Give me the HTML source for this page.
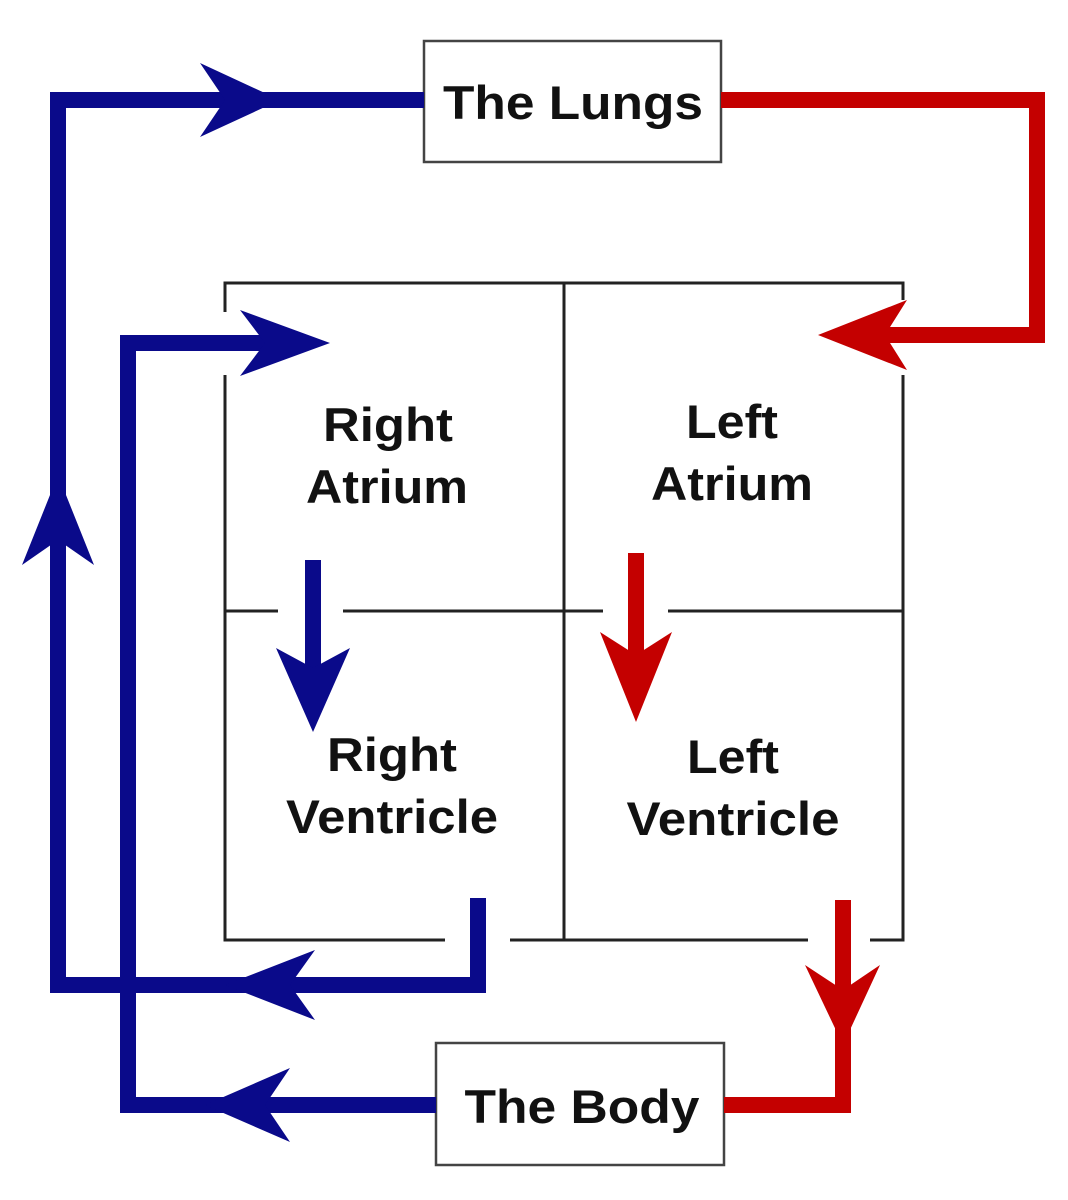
<!DOCTYPE html>
<html><head><meta charset="utf-8"><style>
html,body{margin:0;padding:0;background:#fff;}
svg{display:block;}
text{font-family:"Liberation Sans",Arial,sans-serif;font-weight:bold;fill:#111;text-anchor:middle;}
</style></head><body>
<svg width="1068" height="1200" viewBox="0 0 1068 1200" xmlns="http://www.w3.org/2000/svg">
<!-- heart box -->
<g stroke="#222" stroke-width="3" fill="none">
<path d="M225 312 V283 H903 V300"/>
<path d="M225 375 V940 H445"/>
<path d="M510 940 H808"/>
<path d="M870 940 H903 V375"/>
<path d="M564 283 V940"/>
<path d="M225 611 H278"/>
<path d="M343 611 H603"/>
<path d="M668 611 H903"/>
</g>
<!-- boxes -->
<rect x="424" y="41" width="297" height="121" fill="#fff" stroke="#444" stroke-width="2.5"/>
<rect x="436" y="1043" width="288" height="122" fill="#fff" stroke="#444" stroke-width="2.5"/>
<g font-size="47">
<text x="573" y="119" textLength="260" lengthAdjust="spacingAndGlyphs">The Lungs</text>
<text x="582" y="1123" textLength="235" lengthAdjust="spacingAndGlyphs">The Body</text>
<text x="388" y="441" textLength="130" lengthAdjust="spacingAndGlyphs">Right</text>
<text x="387" y="503" textLength="162" lengthAdjust="spacingAndGlyphs">Atrium</text>
<text x="732" y="438" textLength="92" lengthAdjust="spacingAndGlyphs">Left</text>
<text x="732" y="500" textLength="162" lengthAdjust="spacingAndGlyphs">Atrium</text>
<text x="392" y="771" textLength="130" lengthAdjust="spacingAndGlyphs">Right</text>
<text x="392" y="833" textLength="212" lengthAdjust="spacingAndGlyphs">Ventricle</text>
<text x="733" y="773" textLength="92" lengthAdjust="spacingAndGlyphs">Left</text>
<text x="733" y="835" textLength="213" lengthAdjust="spacingAndGlyphs">Ventricle</text>
</g>
<!-- blue lines -->
<g stroke="#0a0a8a" stroke-width="16" fill="none">
<path d="M424 100 H58 V985 H478 V898"/>
<path d="M436 1105 H128 V343 H300"/>
<path d="M313 560 V690"/>
</g>
<!-- red lines -->
<g stroke="#c40000" stroke-width="16" fill="none">
<path d="M721 100 H1037 V335 H870"/>
<path d="M843 900 V1105 H724"/>
<path d="M636 553 V680"/>
</g>
<!-- arrowheads -->
<g fill="#0a0a8a">
<path d="M280 100 L200 63 L225 100 L200 137 Z"/>
<path d="M330 343 L240 310 L265 343 L240 376 Z"/>
<path d="M58 475 L22 565 L58 540 L94 565 Z"/>
<path d="M225 985 L315 950 L290 985 L315 1020 Z"/>
<path d="M205 1105 L290 1068 L265 1105 L290 1142 Z"/>
<path d="M313 732 L276 648 L313 668 L350 648 Z"/>
</g>
<g fill="#c40000">
<path d="M818 335 L907 300 L885 335 L907 370 Z"/>
<path d="M843 1045 L805 965 L843 990 L880 965 Z"/>
<path d="M636 722 L600 632 L636 655 L672 632 Z"/>
</g>
</svg>
</body></html>
